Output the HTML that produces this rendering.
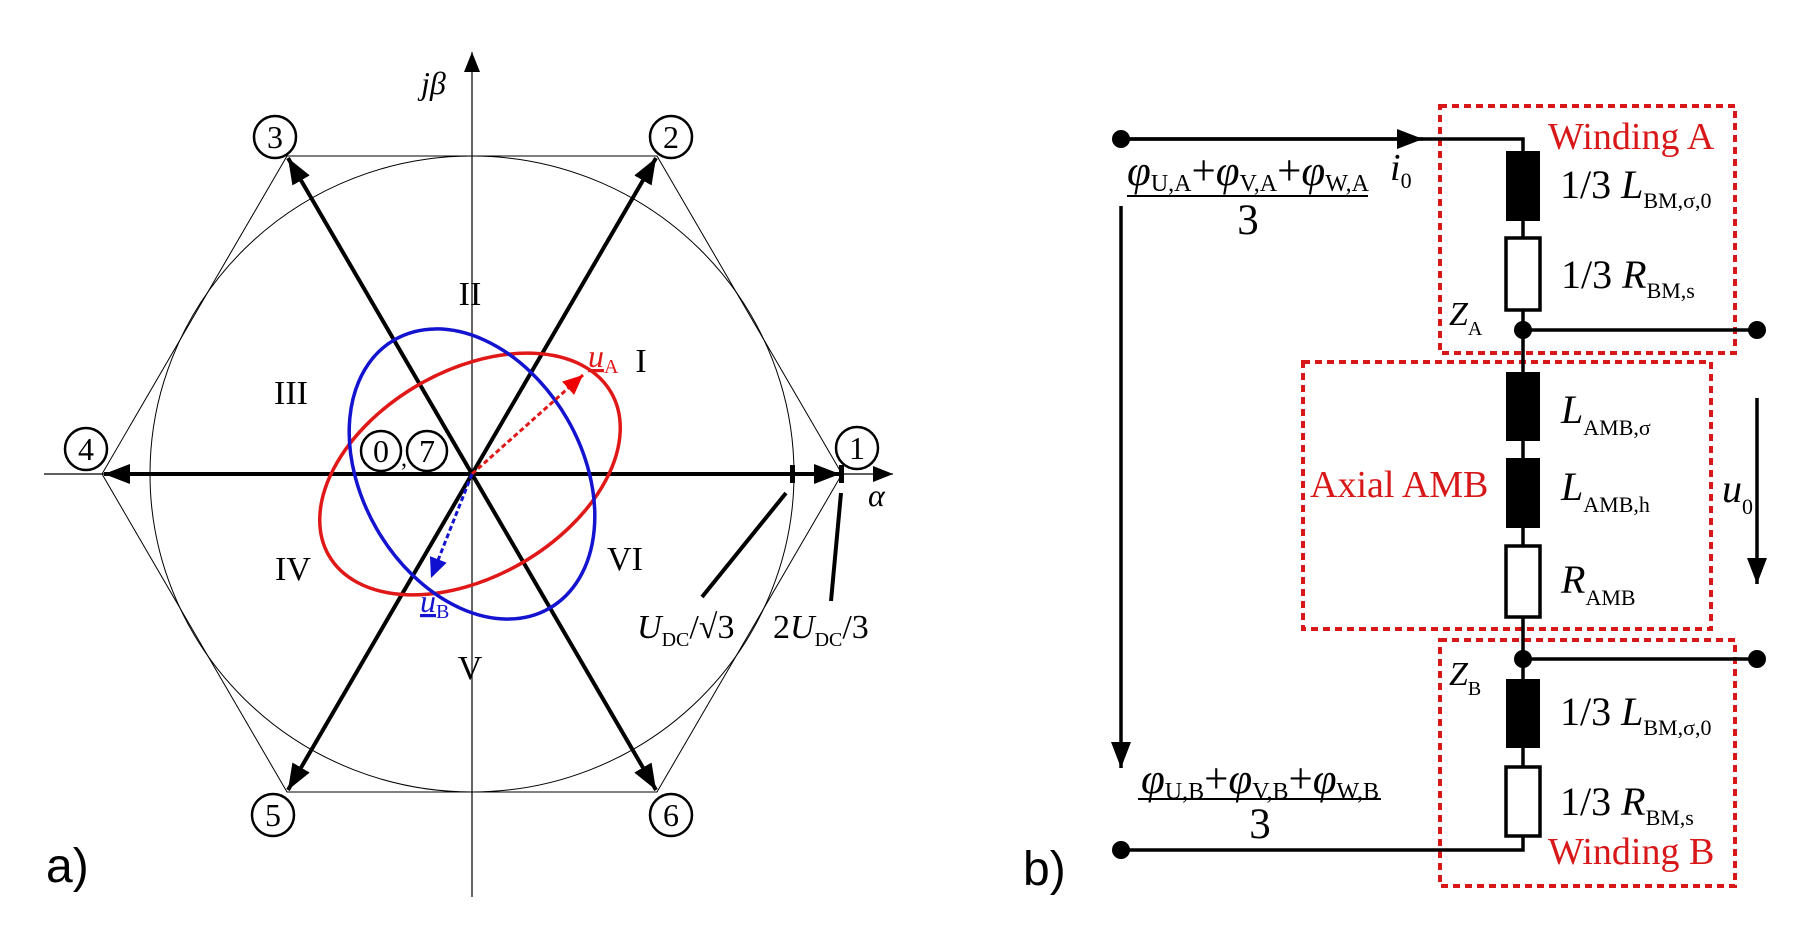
<!DOCTYPE html>
<html><head><meta charset="utf-8"><style>
html,body{margin:0;padding:0;background:#fff;}
svg{display:block;}
text{font-family:"Liberation Serif",serif;}
.s{font-family:"Liberation Sans",sans-serif;}
</style></head><body>
<svg width="1814" height="939" viewBox="0 0 1814 939" xmlns="http://www.w3.org/2000/svg">
<defs>
<marker id="ah" markerUnits="userSpaceOnUse" markerWidth="30" markerHeight="24" refX="26" refY="10" orient="auto"><path d="M0,0 L26,10 L0,20 Z" fill="#000"/></marker>
<marker id="ahs" markerUnits="userSpaceOnUse" markerWidth="24" markerHeight="20" refX="20" refY="8" orient="auto"><path d="M0,0 L20,8 L0,16 Z" fill="#000"/></marker>
<marker id="ahr" markerUnits="userSpaceOnUse" markerWidth="24" markerHeight="20" refX="20" refY="9" orient="auto"><path d="M0,0 L20,9 L0,18 Z" fill="#e00"/></marker>
<marker id="ahb" markerUnits="userSpaceOnUse" markerWidth="24" markerHeight="20" refX="20" refY="9" orient="auto"><path d="M0,0 L20,9 L0,18 Z" fill="#1010d0"/></marker>
</defs>

<line x1="44" y1="474" x2="893" y2="474" stroke="#000" stroke-width="1.2" marker-end="url(#ahs)"/>
<line x1="472" y1="897" x2="472" y2="52" stroke="#000" stroke-width="1.2" marker-end="url(#ahs)"/>
<polygon points="842,474 657,156 287,156 102,474 287,792 657,792" fill="none" stroke="#000" stroke-width="1"/>
<ellipse cx="472" cy="474" rx="322" ry="318" fill="none" stroke="#000" stroke-width="1"/>
<g stroke="#000" stroke-width="4" fill="none">
<line x1="472" y1="474" x2="840" y2="474" marker-end="url(#ah)"/>
<line x1="472" y1="474" x2="104" y2="474" marker-end="url(#ah)"/>
<line x1="472" y1="474" x2="656" y2="158" marker-end="url(#ah)"/>
<line x1="472" y1="474" x2="288" y2="158" marker-end="url(#ah)"/>
<line x1="472" y1="474" x2="288" y2="790" marker-end="url(#ah)"/>
<line x1="472" y1="474" x2="656" y2="790" marker-end="url(#ah)"/>
</g>
<rect x="790" y="465" width="5" height="18" fill="#000"/>
<rect x="839" y="465" width="5" height="18" fill="#000"/>
<line x1="702" y1="597" x2="786" y2="493" stroke="#000" stroke-width="4"/>
<line x1="831" y1="601" x2="841" y2="493" stroke="#000" stroke-width="4"/>
<ellipse cx="470" cy="474" rx="163" ry="103" transform="rotate(-30 470 474)" fill="none" stroke="#e01818" stroke-width="3.5"/>
<ellipse cx="472" cy="474" rx="155" ry="110" transform="rotate(60 472 474)" fill="none" stroke="#1414d0" stroke-width="3.5"/>
<line x1="472" y1="474" x2="583" y2="375" stroke="#e01818" stroke-width="3" stroke-dasharray="5,3" marker-end="url(#ahr)"/>
<line x1="472" y1="474" x2="431" y2="578" stroke="#1414d0" stroke-width="3" stroke-dasharray="5,3" marker-end="url(#ahb)"/>
<g fill="#fff" stroke="#000" stroke-width="2.5">
<circle cx="857" cy="448" r="21"/><circle cx="671" cy="137" r="21"/><circle cx="275" cy="137" r="21"/>
<circle cx="86" cy="449" r="21"/><circle cx="273" cy="815" r="21"/><circle cx="671" cy="815" r="21"/>
<circle cx="381" cy="451" r="20"/><circle cx="427" cy="451" r="20"/>
</g>
<g font-size="32" text-anchor="middle">
<text x="857" y="459">1</text><text x="671" y="148">2</text><text x="275" y="148">3</text>
<text x="86" y="460">4</text><text x="273" y="826">5</text><text x="671" y="826">6</text>
<text x="381" y="462">0</text><text x="427" y="462">7</text>
<text x="404" y="466" font-size="24">,</text>
</g>
<g font-size="34" text-anchor="middle">
<text x="470" y="305">II</text><text x="641" y="372">I</text><text x="291" y="404">III</text>
<text x="293" y="580">IV</text><text x="470" y="679">V</text><text x="625" y="570">VI</text>
</g>
<text x="421" y="94" font-size="32" font-style="italic">jβ</text>
<text x="868" y="506" font-size="32" font-style="italic">α</text>
<text x="588" y="367" font-size="32" fill="#e01818"><tspan font-style="italic" text-decoration="underline">u</tspan><tspan font-size="20" dy="6">A</tspan></text>
<text x="420" y="612" font-size="32" fill="#1414d0"><tspan font-style="italic" text-decoration="underline">u</tspan><tspan font-size="20" dy="6">B</tspan></text>
<text x="637" y="638" font-size="34"><tspan font-style="italic">U</tspan><tspan font-size="20" dy="8">DC</tspan><tspan dy="-8">/√3</tspan></text>
<text x="773" y="638" font-size="34">2<tspan font-style="italic">U</tspan><tspan font-size="20" dy="8">DC</tspan><tspan dy="-8">/3</tspan></text>
<text class="s" x="46" y="882" font-size="48">a)</text>

<text class="s" x="1023" y="885" font-size="48">b)</text>
<g fill="none" stroke="#d81818" stroke-width="4" stroke-dasharray="7,5">
<rect x="1440" y="106" width="295" height="247"/>
<rect x="1303" y="362" width="408" height="267"/>
<rect x="1440" y="640" width="295" height="246"/>
</g>
<g stroke="#000" stroke-width="3.5" fill="none">
<polyline points="1121,139 1523,139 1523,850 1121,850"/>
<line x1="1121" y1="139" x2="1423" y2="139" marker-end="url(#ah)"/>
<line x1="1523" y1="330" x2="1757" y2="330"/>
<line x1="1523" y1="659" x2="1757" y2="659"/>
<line x1="1121" y1="206" x2="1121" y2="768" marker-end="url(#ah)"/>
<line x1="1757" y1="398" x2="1757" y2="584" marker-end="url(#ah)"/>
</g>
<g fill="#000">
<circle cx="1121" cy="139" r="9"/><circle cx="1121" cy="850" r="9"/>
<circle cx="1523" cy="330" r="9"/><circle cx="1757" cy="330" r="9"/>
<circle cx="1523" cy="659" r="9"/><circle cx="1757" cy="659" r="9"/>
<rect x="1506" y="151" width="34" height="70"/>
<rect x="1506" y="372" width="34" height="69"/>
<rect x="1506" y="458" width="34" height="70"/>
<rect x="1506" y="679" width="34" height="69"/>
</g>
<g fill="#fff" stroke="#000" stroke-width="3.5">
<rect x="1506" y="238" width="34" height="72"/>
<rect x="1506" y="546" width="34" height="71"/>
<rect x="1506" y="767" width="34" height="69"/>
</g>
<g font-size="43">
<text x="1248" y="185" text-anchor="middle"><tspan font-style="italic">φ</tspan><tspan font-size="24" dy="6">U,A</tspan><tspan dy="-6">+</tspan><tspan font-style="italic">φ</tspan><tspan font-size="24" dy="6">V,A</tspan><tspan dy="-6">+</tspan><tspan font-style="italic">φ</tspan><tspan font-size="24" dy="6">W,A</tspan></text>
<text x="1248" y="234" text-anchor="middle">3</text>
<text x="1260" y="793" text-anchor="middle"><tspan font-style="italic">φ</tspan><tspan font-size="24" dy="6">U,B</tspan><tspan dy="-6">+</tspan><tspan font-style="italic">φ</tspan><tspan font-size="24" dy="6">V,B</tspan><tspan dy="-6">+</tspan><tspan font-style="italic">φ</tspan><tspan font-size="24" dy="6">W,B</tspan></text>
<text x="1260" y="838" text-anchor="middle">3</text>
</g>
<line x1="1127" y1="196" x2="1368" y2="196" stroke="#000" stroke-width="2"/>
<line x1="1138" y1="799" x2="1381" y2="799" stroke="#000" stroke-width="2"/>
<text x="1390" y="180" font-size="38"><tspan font-style="italic">i</tspan><tspan font-size="22" dy="8">0</tspan></text>
<g font-size="40">
<text x="1560" y="198">1/3 <tspan font-style="italic">L</tspan><tspan font-size="22" dy="10">BM,σ,0</tspan></text>
<text x="1561" y="288">1/3 <tspan font-style="italic">R</tspan><tspan font-size="22" dy="10">BM,s</tspan></text>
<text x="1561" y="423"><tspan font-style="italic">L</tspan><tspan font-size="22" dy="12">AMB,σ</tspan></text>
<text x="1561" y="500"><tspan font-style="italic">L</tspan><tspan font-size="22" dy="12">AMB,h</tspan></text>
<text x="1561" y="593"><tspan font-style="italic">R</tspan><tspan font-size="22" dy="12">AMB</tspan></text>
<text x="1722" y="502"><tspan font-style="italic">u</tspan><tspan font-size="22" dy="12">0</tspan></text>
<text x="1560" y="725">1/3 <tspan font-style="italic">L</tspan><tspan font-size="22" dy="10">BM,σ,0</tspan></text>
<text x="1560" y="815">1/3 <tspan font-style="italic">R</tspan><tspan font-size="22" dy="10">BM,s</tspan></text>
</g>
<text x="1449" y="325" font-size="34"><tspan font-style="italic">Z</tspan><tspan font-size="20" dy="10">A</tspan></text>
<text x="1449" y="685" font-size="34"><tspan font-style="italic">Z</tspan><tspan font-size="20" dy="10">B</tspan></text>
<g font-size="38" fill="#d81818">
<text x="1548" y="149">Winding A</text>
<text x="1310" y="497">Axial AMB</text>
<text x="1548" y="864">Winding B</text>
</g>
</svg>
</body></html>
